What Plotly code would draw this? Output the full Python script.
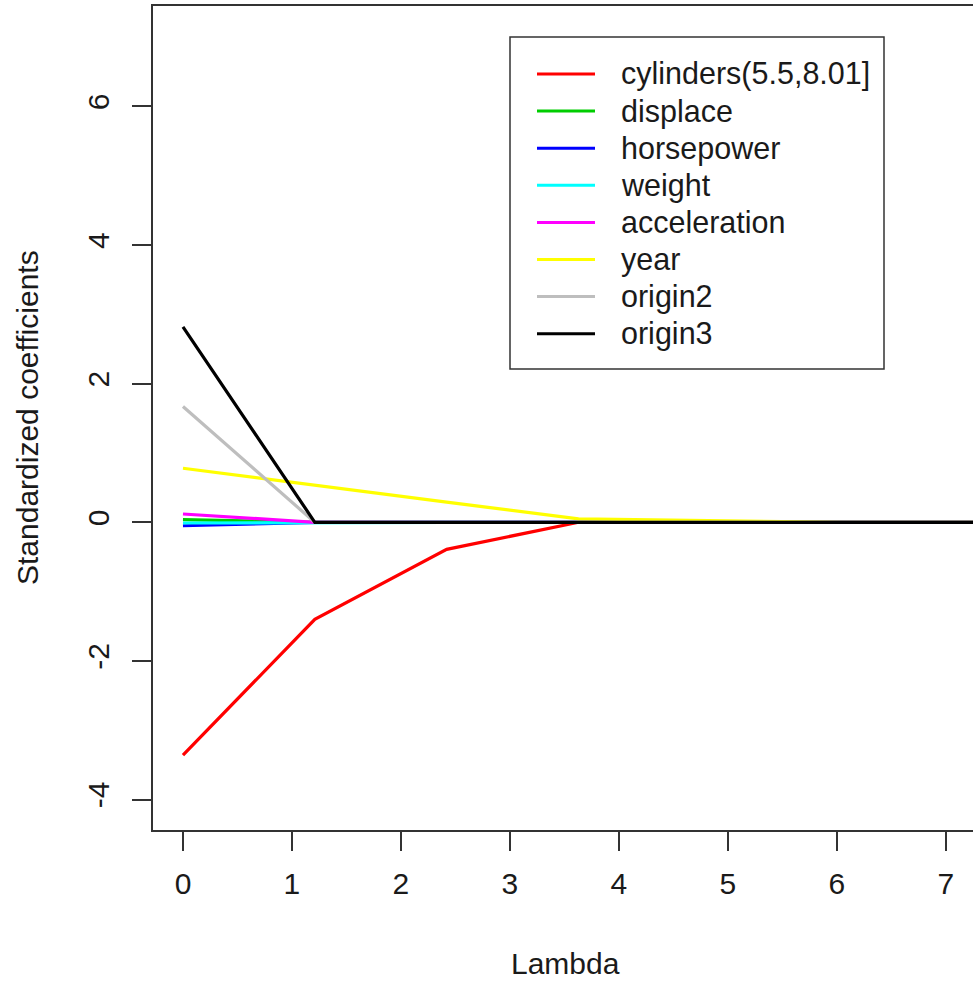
import plotly.graph_objects as go

# Lambda grid
lambdas = [0, 1.21, 2.42, 3.63, 4.84, 6.05, 7.26, 8.47]

# Standardized coefficient paths
cylinders = [-3.36, -1.40, -0.39, 0.0, 0.0, 0.0, 0.0, 0.0]
displace = [0.04, 0.0, 0.0, 0.0, 0.0, 0.0, 0.0, 0.0]
horsepower = [-0.05, 0.0, 0.0, 0.0, 0.0, 0.0, 0.0, 0.0]
weight = [-0.01, 0.0, 0.0, 0.0, 0.0, 0.0, 0.0, 0.0]
acceleration = [0.12, 0.0, 0.0, 0.0, 0.0, 0.0, 0.0, 0.0]
year = [0.78, 0.53, 0.29, 0.05, 0.02, 0.0, 0.0, 0.0]
origin2 = [1.67, 0.0, 0.0, 0.0, 0.0, 0.0, 0.0, 0.0]
origin3 = [2.82, 0.0, 0.0, 0.0, 0.0, 0.0, 0.0, 0.0]

names = ["cylinders(5.5,8.01]", "displace", "horsepower", "weight",
         "acceleration", "year", "origin2", "origin3"]
series = [cylinders, displace, horsepower, weight, acceleration, year, origin2, origin3]
colors = ["#FF0000", "#00CD00", "#0000FF", "#00FFFF", "#FF00FF", "#FFFF00", "#BEBEBE", "#000000"]

x_ticks = [0, 1, 2, 3, 4, 5, 6, 7]
y_ticks = [-4, -2, 0, 2, 4, 6]

FONT = "Liberation Sans, Arial, Helvetica, sans-serif"
TXT = "#1a1a1a"

# plot area in pixels
L, R, T, B = 153, 973, 6, 830
def px(x):
    return (x - L) / (R - L)
def py(y):
    return (B - y) / (B - T)

fig = go.Figure()
for name, vals, col in zip(names, series, colors):
    fig.add_trace(go.Scatter(x=lambdas, y=vals, mode="lines", name=name,
                             line=dict(color=col, width=3.2), showlegend=False))

# legend box drawn in R style
shapes = [dict(type="rect", xref="paper", yref="paper",
               x0=px(510), x1=px(884), y0=py(369), y1=py(37),
               line=dict(color="#333333", width=1.5), fillcolor="white", layer="above")]
annotations = []
for i, (name, col) in enumerate(zip(names, colors)):
    yy = 74 + 37.1 * i
    shapes.append(dict(type="line", xref="paper", yref="paper",
                       x0=px(537), x1=px(595), y0=py(yy), y1=py(yy),
                       line=dict(color=col, width=3), layer="above"))
    annotations.append(dict(text=name, xref="paper", yref="paper", x=px(619), y=py(yy),
                            xanchor="left", yanchor="middle", showarrow=False,
                            font=dict(size=30.5, color=TXT)))

annotations += [
    dict(text="Lambda", xref="paper", yref="paper", x=px(565),
         y=py(963), xanchor="center", yanchor="middle",
         showarrow=False, font=dict(size=30, color=TXT)),
    dict(text="Standardized coefficients", xref="paper", yref="paper",
         x=px(27), y=0.5, xanchor="center", yanchor="middle",
         textangle=-90, showarrow=False, font=dict(size=30, color=TXT)),
]

fig.update_layout(
    width=973, height=982,
    margin=dict(l=L, r=973 - R, t=T, b=982 - B),
    paper_bgcolor="white", plot_bgcolor="white",
    font=dict(family=FONT, size=30, color=TXT),
    showlegend=False,
    shapes=shapes,
    annotations=annotations,
    xaxis=dict(
        range=[-0.275, 7.25], tickvals=x_ticks, ticktext=[str(v) for v in x_ticks],
        showgrid=False, zeroline=False, showline=True, mirror=True,
        linecolor="#333333", linewidth=1.5,
        ticks="outside", ticklen=19, tickwidth=1.5, tickcolor="#333333",
        tickfont=dict(size=30), ticklabelstandoff=7,
    ),
    yaxis=dict(
        range=[-4.44, 7.45], tickvals=y_ticks, ticktext=[str(v) for v in y_ticks],
        showgrid=False, zeroline=False, showline=True, mirror=False,
        linecolor="#333333", linewidth=1.5,
        ticks="outside", ticklen=19, tickwidth=1.5, tickcolor="#333333",
        tickfont=dict(size=30), tickangle=-90, ticklabelstandoff=11,
    ),
)

fig.write_html("out.html", config={"displayModeBar": False},
               post_script="document.body.style.margin='0px';document.body.style.overflow='hidden';")
